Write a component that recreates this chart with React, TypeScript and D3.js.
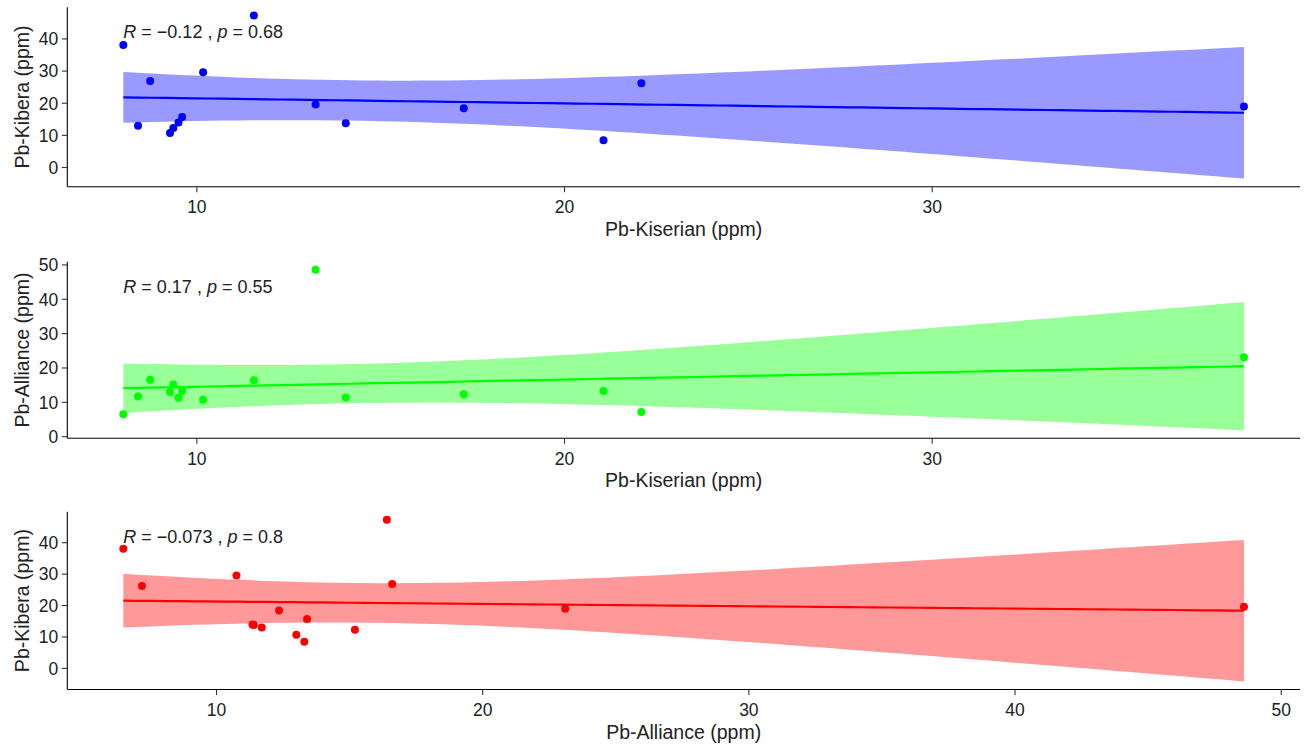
import React from "react";
import * as d3 from "d3";

// ---- data (ppm), one sample per index ----
const kiserian = [8.0, 8.4, 8.73, 9.27, 9.36, 9.5, 9.6, 10.17, 11.55, 13.23, 14.05, 17.26, 21.06, 22.09, 38.48];
const alliance = [6.5, 11.7, 16.6, 13.0, 15.2, 11.35, 13.4, 10.75, 16.4, 48.6, 11.4, 12.35, 13.3, 7.2, 23.1];
const kibera = [38.1, 13.0, 26.9, 10.7, 12.3, 14.0, 15.7, 29.6, 47.3, 19.6, 13.8, 18.4, 8.5, 26.2, 19.0];

const xTicksKiserian = [10, 20, 30];
const xTicksAlliance = [10, 20, 30, 40, 50];
const yTicksKibera = [0, 10, 20, 30, 40];
const yTicksAlliance = [0, 10, 20, 30, 40, 50];

const T975 = 2.1604; // t quantile 0.975, df = 13

const W = 1310;
const H = 749;
const LEFT = 67.3;
const RIGHT = 1300;
const FONT = "'Liberation Sans', Arial, sans-serif";

type Panel = {
  xs: number[];
  ys: number[];
  color: string;
  xTitle: string;
  yTitle: string;
  r: string;
  p: string;
  xTicks: number[];
  yTicks: number[];
  top: number;
  bottom: number;
};

const panels: Panel[] = [
  { xs: kiserian, ys: kibera, color: "#0000FF", xTitle: "Pb-Kiserian (ppm)", yTitle: "Pb-Kibera (ppm)", r: "\u22120.12", p: "0.68", xTicks: xTicksKiserian, yTicks: yTicksKibera, top: 7.3, bottom: 186.7 },
  { xs: kiserian, ys: alliance, color: "#00FF00", xTitle: "Pb-Kiserian (ppm)", yTitle: "Pb-Alliance (ppm)", r: "0.17", p: "0.55", xTicks: xTicksKiserian, yTicks: yTicksAlliance, top: 261.7, bottom: 438.3 },
  { xs: alliance, ys: kibera, color: "#FF0000", xTitle: "Pb-Alliance (ppm)", yTitle: "Pb-Kibera (ppm)", r: "\u22120.073", p: "0.8", xTicks: xTicksAlliance, yTicks: yTicksKibera, top: 511.7, bottom: 689.5 },
];

function fit(xs: number[], ys: number[]) {
  const n = xs.length;
  const xbar = d3.mean(xs)!;
  const ybar = d3.mean(ys)!;
  let sxx = 0, sxy = 0;
  xs.forEach((x, i) => { sxx += (x - xbar) ** 2; sxy += (x - xbar) * (ys[i] - ybar); });
  const b = sxy / sxx;
  const a = ybar - b * xbar;
  let rss = 0;
  xs.forEach((x, i) => { rss += (ys[i] - (a + b * x)) ** 2; });
  const s = Math.sqrt(rss / (n - 2));
  const [x0, x1] = d3.extent(xs) as [number, number];
  const grid = d3.range(80).map((k) => x0 + ((x1 - x0) * k) / 79);
  return grid.map((x) => {
    const yhat = a + b * x;
    const se = s * Math.sqrt(1 / n + (x - xbar) ** 2 / sxx);
    return { x, y: yhat, lo: yhat - T975 * se, hi: yhat + T975 * se };
  });
}

function expand([a, b]: [number, number]): [number, number] {
  const d = (b - a) * 0.05;
  return [a - d, b + d];
}

function PanelView({ pn }: { pn: Panel }) {
  const pred = fit(pn.xs, pn.ys);
  const xDom = expand(d3.extent(pn.xs) as [number, number]);
  const yMin = Math.min(d3.min(pn.ys)!, d3.min(pred, (d) => d.lo)!);
  const yMax = Math.max(d3.max(pn.ys)!, d3.max(pred, (d) => d.hi)!);
  const yDom = expand([yMin, yMax]);
  const x = d3.scaleLinear().domain(xDom).range([LEFT, RIGHT]);
  const y = d3.scaleLinear().domain(yDom).range([pn.bottom, pn.top]);
  const area = d3.area<any>().x((d) => x(d.x)).y0((d) => y(d.lo)).y1((d) => y(d.hi));
  const line = d3.line<any>().x((d) => x(d.x)).y((d) => y(d.y));
  const midY = (pn.top + pn.bottom) / 2;
  const lx = x(d3.min(pn.xs)!);
  return (
    <g>
      <path d={area(pred)!} fill={pn.color} fillOpacity={0.4} stroke="none" />
      <path d={line(pred)!} fill="none" stroke={pn.color} strokeWidth={2.2} />
      {pn.xs.map((xv, i) => (
        <circle key={i} cx={x(xv)} cy={y(pn.ys[i])} r={4} fill={pn.color} />
      ))}
      <line x1={LEFT} x2={LEFT} y1={pn.top} y2={pn.bottom} stroke="#000" strokeWidth={1.1} />
      <line x1={LEFT} x2={RIGHT} y1={pn.bottom} y2={pn.bottom} stroke="#000" strokeWidth={1.1} />
      {pn.yTicks.map((t) => (
        <g key={"y" + t}>
          <line x1={LEFT - 5.5} x2={LEFT} y1={y(t)} y2={y(t)} stroke="#333" strokeWidth={1.1} />
          <text x={LEFT - 9} y={y(t)} dy="0.36em" textAnchor="end" fontSize={17.5} fill="#222" fontFamily={FONT}>{t}</text>
        </g>
      ))}
      {pn.xTicks.map((t) => (
        <g key={"x" + t}>
          <line x1={x(t)} x2={x(t)} y1={pn.bottom} y2={pn.bottom + 5.5} stroke="#333" strokeWidth={1.1} />
          <text x={x(t)} y={pn.bottom + 26.5} textAnchor="middle" fontSize={17.5} fill="#222" fontFamily={FONT}>{t}</text>
        </g>
      ))}
      <text x={(LEFT + RIGHT) / 2} y={pn.bottom + 49} textAnchor="middle" fontSize={19.5} fill="#222" fontFamily={FONT}>{pn.xTitle}</text>
      <text transform={`translate(29,${midY}) rotate(-90)`} textAnchor="middle" fontSize={19.5} fill="#222" fontFamily={FONT}>{pn.yTitle}</text>
      <text x={lx} y={pn.top + 31} fontSize={18} fill="#222" fontFamily={FONT}>
        <tspan fontStyle="italic">R</tspan>
        <tspan>{` = ${pn.r} , `}</tspan>
        <tspan fontStyle="italic">p</tspan>
        <tspan>{` = ${pn.p}`}</tspan>
      </text>
    </g>
  );
}

export default function App() {
  return (
    <svg width={W} height={H} style={{ position: "absolute", left: 0, top: 0, background: "#fff" }}>
      <rect width={W} height={H} fill="#fff" />
      {panels.map((pn, i) => (
        <PanelView key={i} pn={pn} />
      ))}
    </svg>
  );
}
